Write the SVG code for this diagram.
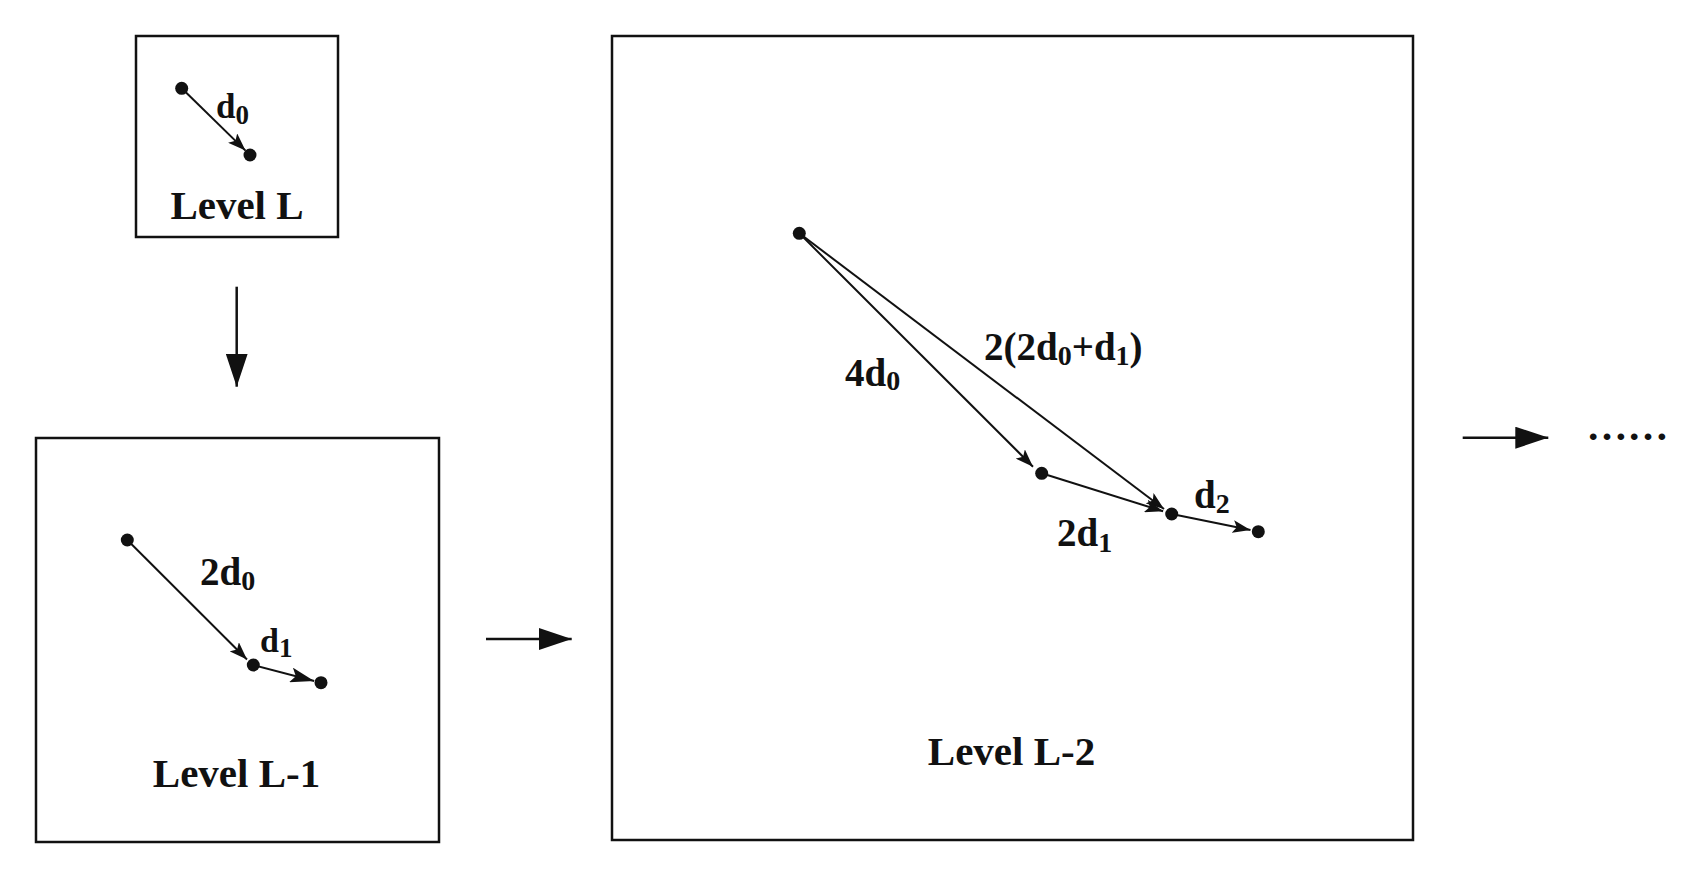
<svg xmlns="http://www.w3.org/2000/svg" width="1691" height="873" viewBox="0 0 1691 873">
<style>
.box{fill:none;stroke:#111;stroke-width:2.5}
.ln{stroke:#111;stroke-width:2;fill:none}
.flow{stroke:#111;stroke-width:2.5;fill:none}
.dot{fill:#111}
text{font-family:"Liberation Serif","Times New Roman",serif;font-weight:bold;fill:#111}
.lvl{font-size:41px}
.lab{font-size:39px}
.sub{font-size:28px}
</style>
<defs>
<marker id="ah" markerUnits="userSpaceOnUse" markerWidth="18" markerHeight="13" refX="18" refY="6.5" orient="auto">
<path d="M0,0 L18,6.5 L0,13 L4,6.5 Z" fill="#111"/>
</marker>
<marker id="ahm" markerUnits="userSpaceOnUse" markerWidth="24" markerHeight="15" refX="24" refY="7.5" orient="auto">
<path d="M0,0 L24,7.5 L0,15 L5,7.5 Z" fill="#111"/>
</marker>
<marker id="big" markerUnits="userSpaceOnUse" markerWidth="33" markerHeight="22" refX="33" refY="11" orient="auto">
<path d="M0,0 L33,11 L0,22 Z" fill="#111"/>
</marker>
</defs>

<g id="level-L">
<rect class="box" x="136" y="36" width="202" height="201"/>
<line class="ln" x1="181.7" y1="88.3" x2="245.5" y2="150.6" marker-end="url(#ah)"/>
<circle class="dot" cx="181.7" cy="88.3" r="6.5"/>
<circle class="dot" cx="250" cy="155" r="6.5"/>
<text x="216" y="118" style="font-size:35px">d<tspan class="sub" dy="6" style="font-size:27px">0</tspan></text>
<text class="lvl" x="237" y="219" text-anchor="middle">Level L</text>
</g>

<g id="level-L-1">
<rect class="box" x="36" y="438" width="403" height="404"/>
<line class="ln" x1="127.3" y1="540" x2="247" y2="659.5" marker-end="url(#ah)"/>
<line class="ln" x1="253.3" y1="665" x2="314.2" y2="681" stroke-width="2.6" marker-end="url(#ahm)"/>
<circle class="dot" cx="127.3" cy="540" r="6.5"/>
<circle class="dot" cx="253.3" cy="665" r="6.5"/>
<circle class="dot" cx="321" cy="682.7" r="6.5"/>
<text class="lab" x="200" y="585">2d<tspan class="sub" dy="5">0</tspan></text>
<text x="260" y="651.7" style="font-size:34px">d<tspan class="sub" dy="5" style="font-size:27px">1</tspan></text>
<text class="lvl" x="236.5" y="786.7" text-anchor="middle">Level L-1</text>
</g>

<g id="level-L-2">
<rect class="box" x="612" y="36" width="801" height="804"/>
<text class="lab" x="845" y="385.7">4d<tspan class="sub" dy="4.5">0</tspan></text>
<text class="lab" x="984" y="360">2(2d<tspan class="sub" dy="5">0</tspan><tspan dy="-5">+d</tspan><tspan class="sub" dy="5">1</tspan><tspan dy="-5">)</tspan></text>
<text class="lab" x="1057" y="546">2d<tspan class="sub" dy="5.5">1</tspan></text>
<text class="lab" x="1194" y="508.3">d<tspan class="sub" dy="5">2</tspan></text>
<text class="lvl" x="1011.5" y="765" text-anchor="middle">Level L-2</text>
</g>

<g id="connectors">
<line class="ln" x1="799.3" y1="233.3" x2="1033" y2="466.7" marker-end="url(#ah)"/>
<line class="ln" x1="799.3" y1="233.3" x2="1164" y2="509" marker-end="url(#ah)"/>
<line class="ln" x1="1041.7" y1="473.3" x2="1163.1" y2="511.3" stroke-width="2.4" marker-end="url(#ah)"/>
<line class="ln" x1="1171.7" y1="514" x2="1250.5" y2="530.1" stroke-width="2.4" marker-end="url(#ah)"/>
<line class="flow" x1="236.7" y1="286.7" x2="236.7" y2="386.7" marker-end="url(#big)"/>
<line class="flow" x1="486" y1="639" x2="571.7" y2="639" marker-end="url(#big)"/>
<line class="flow" x1="1462.7" y1="437.7" x2="1548.3" y2="437.7" marker-end="url(#big)"/>
</g>

<g id="l2-dots">
<circle class="dot" cx="799.3" cy="233.3" r="6.5"/>
<circle class="dot" cx="1041.7" cy="473.3" r="6.5"/>
<circle class="dot" cx="1171.7" cy="514" r="6.5"/>
<circle class="dot" cx="1258.3" cy="531.7" r="6.5"/>
</g>

<g id="ellipsis">
<text x="1586.5" y="440" style="font-size:41px">……</text>
</g>
</svg>
